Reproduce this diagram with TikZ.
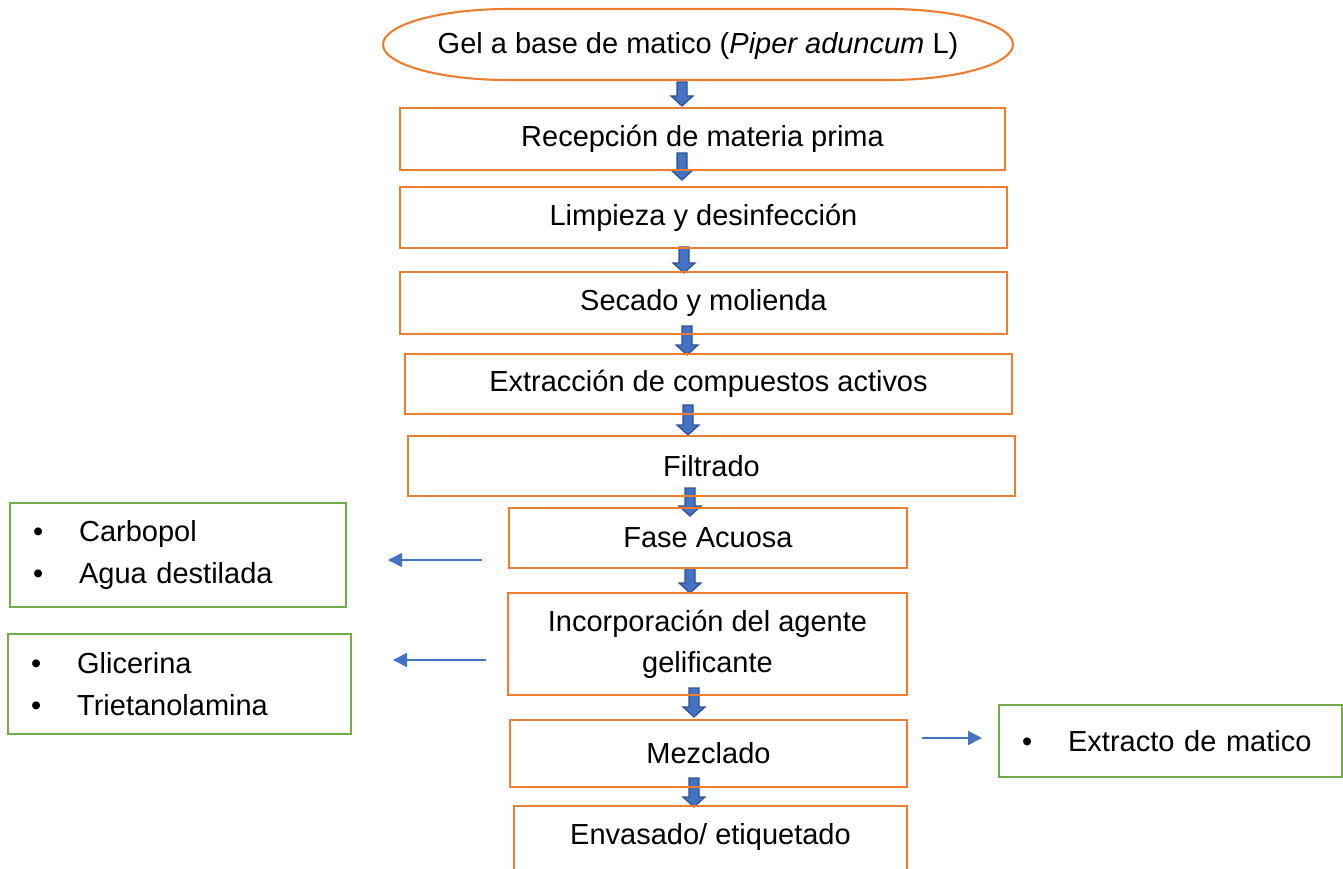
\documentclass[tikz,border=0pt]{standalone}
\usepackage{fontspec}
\setmainfont{Liberation Sans}
\usepackage{tikz}
\usetikzlibrary{arrows.meta}

\definecolor{boxorange}{HTML}{ED7D31}
\definecolor{boxgreen}{HTML}{70AD47}
\definecolor{arrowblue}{HTML}{4472C4}
\definecolor{arrowdark}{HTML}{2F528F}

% block arrow: x, top y, tip y
\newcommand{\blockarrow}[3]{%
	\filldraw[fill=arrowblue,draw=arrowdark,line width=0.7pt,line join=miter]
		(#1-0.1,#2) -- (#1+0.1,#2) -- (#1+0.1,#3+0.2) -- (#1+0.22,#3+0.2)
		-- (#1,#3) -- (#1-0.22,#3+0.2) -- (#1-0.1,#3+0.2) -- cycle;}

\begin{document}
\begin{tikzpicture}[font=\fontsize{16.5}{23.5}\selectfont,
		procbox/.style={draw=boxorange,line width=1.2pt,align=center,inner sep=0pt},
		listbox/.style={draw=boxgreen,line width=1.2pt,align=left,inner xsep=0.46cm,inner ysep=0pt},
		thinarrow/.style={draw=arrowblue,line width=0.9pt,-{Triangle[length=0.28cm,width=0.28cm]}}]
		\useasboundingbox (0,0) rectangle (26.86,-17.38);
		\clip (0,0) rectangle (26.86,-17.38);

		% arrows between the steps
		\foreach \x/\t/\b in {13.64/-1.64/-2.12, 13.64/-3.06/-3.60, 13.68/-4.94/-5.46,
			13.74/-6.52/-7.10, 13.76/-8.10/-8.70, 13.80/-9.76/-10.32,
			13.80/-11.36/-11.86, 13.88/-13.76/-14.34, 13.88/-15.56/-16.14}
			\blockarrow{\x}{\t}{\b};

		% steps
		\draw[boxorange,line width=1.2pt] (10.16,-0.18) -- (17.76,-0.18)
			arc[start angle=90,end angle=-90,x radius=2.5,y radius=0.71] -- (10.16,-1.60)
			arc[start angle=270,end angle=90,x radius=2.5,y radius=0.71] -- cycle;
		\node (gel) at (13.96,-0.93) {Gel a base de matico (\textit{Piper aduncum} L)};
		\node[procbox,minimum width=12.1cm,minimum height=1.24cm] (recep) at (14.05,-2.78) {Recepción de materia prima};
		\node[procbox,minimum width=12.14cm,minimum height=1.22cm] (limp) at (14.07,-4.35) {Limpieza y desinfección};
		\node[procbox,minimum width=12.14cm,minimum height=1.24cm] (sec) at (14.07,-6.06) {Secado y molienda};
		\node[procbox,minimum width=12.14cm,minimum height=1.2cm] (extr) at (14.17,-7.68) {Extracción de compuestos activos};
		\node[procbox,minimum width=12.14cm,minimum height=1.2cm] (filt) at (14.23,-9.32) {Filtrado};
		\node[procbox,minimum width=7.96cm,minimum height=1.2cm] (fase) at (14.16,-10.76) {Fase Acuosa};
		\node[procbox,minimum width=7.98cm,minimum height=2.04cm] (incorp) at (14.15,-12.88) {Incorporación del agente\\gelificante};
		\node[procbox,minimum width=7.94cm,minimum height=1.34cm] (mezc) at (14.17,-15.07) {Mezclado};
		\node[procbox,minimum width=7.86cm,text height=0.76cm,text depth=0.74cm,anchor=north] (envas) at (14.21,-16.1) {Envasado/ etiquetado};

		% ingredients
		\node[listbox,text width=5.8cm,minimum height=2.08cm] (carb) at (3.56,-11.1)
			{\textbullet\hspace{0.72cm}Carbopol\\\textbullet\hspace{0.72cm}Agua destilada};
		\node[listbox,text width=5.94cm,minimum height=2.0cm] (glic) at (3.59,-13.68)
			{\textbullet\hspace{0.72cm}Glicerina\\\textbullet\hspace{0.72cm}Trietanolamina};
		\node[listbox,text width=5.94cm,minimum height=1.44cm] (extm) at (23.41,-14.82)
			{\textbullet\hspace{0.72cm}Extracto de matico};

		\coordinate (c1a) at (9.64,-11.2);
		\coordinate (c1b) at (7.76,-11.2);
		\coordinate (c2a) at (9.72,-13.2);
		\coordinate (c2b) at (7.86,-13.2);
		\coordinate (c3a) at (18.44,-14.76);
		\coordinate (c3b) at (19.64,-14.76);
		\draw[thinarrow] (c1a) -- (c1b);
		\draw[thinarrow] (c2a) -- (c2b);
		\draw[thinarrow] (c3a) -- (c3b);
	\end{tikzpicture}
\end{document}
